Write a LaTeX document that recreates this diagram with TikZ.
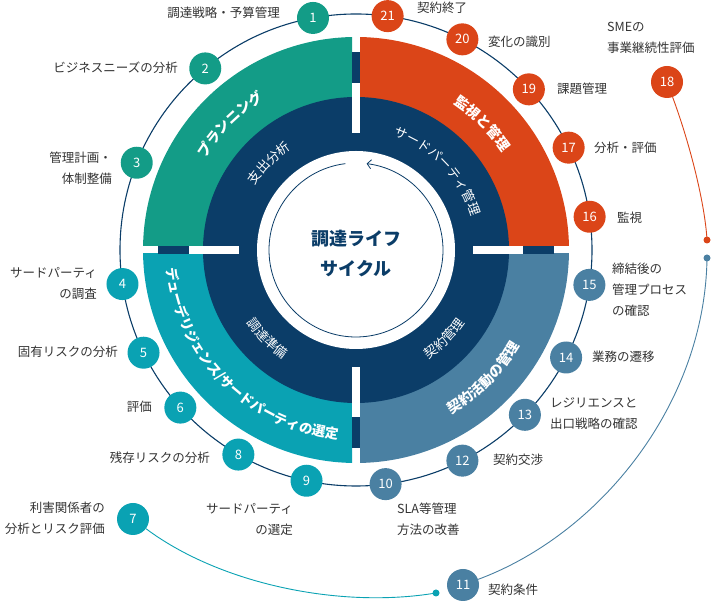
\documentclass[tikz,border=0pt]{standalone}
\usepackage{fontspec}
\setmainfont{Noto Sans CJK JP}
\usetikzlibrary{decorations.text,arrows.meta,calc}
\definecolor{cplan}{HTML}{139C87}
\definecolor{cmon}{HTML}{DB4518}
\definecolor{cdue}{HTML}{0AA2B3}
\definecolor{cact}{HTML}{4A80A2}
\definecolor{cnavy}{HTML}{0B3D68}
\definecolor{ctext}{HTML}{333333}
\tikzset{
  num/.style={circle,fill=#1,minimum size=32pt,inner sep=0pt,text=white,font=\fontsize{13}{13}\selectfont},
  lab/.style={text=ctext,font=\fontsize{12.5}{21}\selectfont,inner sep=0pt},
  labl/.style={lab,anchor=west,align=left},
  labr/.style={lab,anchor=east,align=right},
  dotc/.style={circle,fill=#1,minimum size=7pt,inner sep=0pt},
}
\newcommand{\bandtxt}[4]{% radius, start, end, text
  \path[decorate,decoration={text along path,text align=center,text color=white,
    text={|\bfseries\fontsize{#4}{#4}\selectfont|#3}}]
    (C) ++(#1) arc #2;}
\newcommand{\ringtxt}[4]{% radius, start, end, text
  \path[decorate,decoration={text along path,text align=center,text color=white,
    text={|\fontsize{#4}{#4}\selectfont|#3}}]
    (C) ++(#1) arc #2;}
\begin{document}
\begin{tikzpicture}[x=1pt,y=1pt]
\useasboundingbox (0,0) rectangle (712,604);
\coordinate (C) at (356,354);
% outer ring
\draw[cnavy,line width=1.1pt] (C) circle (236);
% coloured quadrants
\begin{scope}\clip (360,358) rectangle (600,600); \fill[cmon] (C) circle (213);\end{scope}
\begin{scope}\clip (352,358) rectangle (100,600); \fill[cplan] (C) circle (213);\end{scope}
\begin{scope}\clip (352,350) rectangle (100,100); \fill[cdue] (C) circle (213);\end{scope}
\begin{scope}\clip (360,350) rectangle (600,100); \fill[cact] (C) circle (213);\end{scope}
\fill[cnavy] (C) circle (153);
% gap pieces
\foreach \a in {0,90,180,270}{
  \begin{scope}[shift={(C)},rotate=\a]
    \fill[cnavy] (167,-4) rectangle (198,4);
    \fill[white] (117,-4) rectangle (167,4);
  \end{scope}}
\fill[white] (C) circle (99);
\draw[cnavy,line width=0.8pt,-{Straight Barb[length=4pt,width=9pt]}] (C) ++(97:87) arc (97:443:87);
\node[text=cnavy,font=\bfseries\fontsize{18}{18}\selectfont] (t1) at (356,365) {調達ライフ};
\node[text=cnavy,font=\bfseries\fontsize{18}{18}\selectfont] (t2) at (356,335) {サイクル};
% band texts
\bandtxt{165:176}{(165:105:176)}{プランニング}{14}
\bandtxt{75:176}{(75:15:176)}{監視と管理}{14}
\bandtxt{170:190}{(170:280:190)}{デューデリジェンス/サードパーティの選定}{13.5}
\bandtxt{-90:190}{(-90:0:190)}{契約活動の管理}{14}
\ringtxt{160:120}{(160:110:120)}{支出分析}{13}
\ringtxt{82:120}{(82:6:120)}{サードパーティ管理}{13}
\ringtxt{195:131}{(195:255:131)}{調達準備}{13}
\ringtxt{-75:131}{(-75:-15:131)}{契約管理}{13}
% side connectors
\coordinate (rd) at (707,364);
\coordinate (bd) at (707,346);
\coordinate (td) at (436,11);
\node[num=cmon] (n18) at (667,522) {18};
\node[num=cdue] (n7) at (133,85) {7};
\node[num=cact] (n11) at (463,19) {11};
\draw[cmon,line width=0.9pt] (n18) .. controls (690,460) and (705,400) .. (rd);
\draw[cact,line width=0.9pt] (bd) .. controls (705,200) and (600,70) .. (n11);
\draw[cdue,line width=0.9pt] (n7) .. controls (220,20) and (340,-5) .. (td);
\node[dotc=cmon] at (rd) {};
\node[dotc=cact] at (bd) {};
\node[dotc=cdue] at (td) {};
% ring nodes
\foreach \n/\ang/\c in {1/100.5/cplan,2/129.7/cplan,3/158.3/cplan,
  4/-171.7/cdue,5/-154.2/cdue,6/-138.1/cdue,8/-119.9/cdue,9/-102.1/cdue,
  10/-82.8/cact,12/-63.2/cact,13/-44.3/cact,14/-27.1/cact,15/-8.5/cact,
  16/8.1/cmon,17/25.7/cmon,19/42.9/cmon,20/63.2/cmon,21/82.3/cmon}{
  \node[num=\c] (n\n) at ($(C)+(\ang:236)$) {\n};}
% labels
\node[labr] (l1) at (280,591) {調達戦略・予算管理};
\node[labr] (l2) at (178,536) {ビジネスニーズの分析};
\node[labr] (l3) at (112,436) {管理計画・\\体制整備};
\node[labr] (l4) at (97,321) {サードパーティ\\の調査};
\node[labr] (l5) at (118,252) {固有リスクの分析};
\node[labr] (l6) at (152,197) {評価};
\node[labr] (l8) at (210,146) {残存リスクの分析};
\node[labr] (l9) at (293,85) {サードパーティ\\の選定};
\node[labl] (l10) at (397,85) {SLA等管理\\方法の改善};
\node[labl] (l12) at (493,144) {契約交渉};
\node[labl] (l13) at (550,190) {レジリエンスと\\出口戦略の確認};
\node[labl] (l14) at (592,247) {業務の遷移};
\node[labl] (l15) at (612,314) {締結後の\\管理プロセス\\の確認};
\node[labl] (l16) at (617,386) {監視};
\node[labl] (l17) at (594,456) {分析・評価};
\node[labl] (l19) at (557,515) {課題管理};
\node[labl] (l20) at (488,562) {変化の識別};
\node[labl] (l21) at (417,596) {契約終了};
\node[labl] (l18) at (607,566) {SMEの\\事業継続性評価};
\node[labr] (l7) at (105,86) {利害関係者の\\分析とリスク評価};
\node[labl] (l11) at (488,14) {契約条件};
\end{tikzpicture}
\end{document}
